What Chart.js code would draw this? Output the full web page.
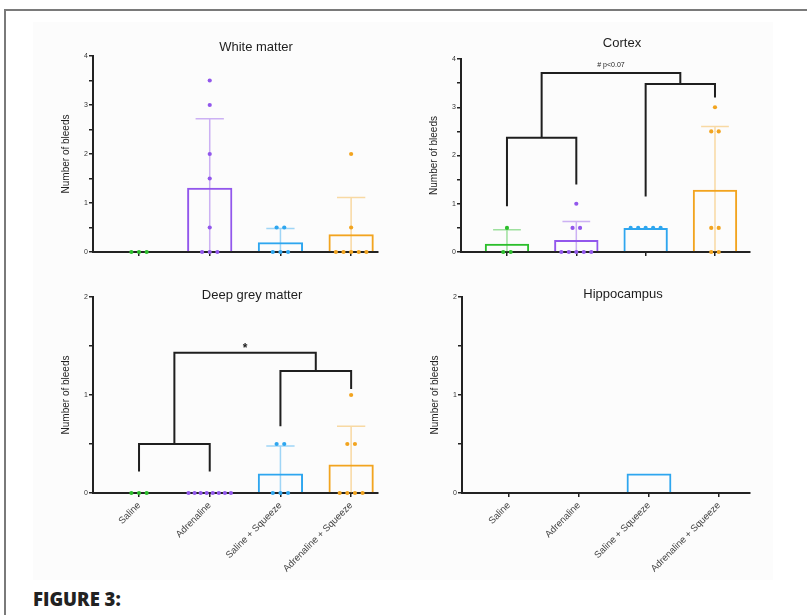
<!DOCTYPE html>
<html>
<head>
<meta charset="utf-8">
<script src="https://cdn.jsdelivr.net/npm/chart.js@4.4.1/dist/chart.umd.min.js"></script>
<style>
    html, body { margin: 0; padding: 0; background: #fff; }
    body { width: 807px; height: 615px; position: relative; overflow: hidden; font-family: 'Liberation Sans', Arial, sans-serif; }
    .frame-top { position: absolute; left: 4px; top: 9px; width: 803px; height: 2px; background: #7a7a7a; }
    .frame-left { position: absolute; left: 4px; top: 9px; width: 2px; height: 606px; background: #7a7a7a; }
    .sheet { position: absolute; left: 33px; top: 22px; width: 740px; height: 558px; background: #fcfcfc; }
    canvas { position: absolute; }
    .panel-title { position: absolute; transform: translate(-50%, -50%); font-size: 13px; color: #1e1e1e; white-space: nowrap; }
    .caption { position: absolute; left: 33px; top: 586px; font-family: 'Open Sans', sans-serif; font-weight: 800; font-size: 18.5px; color: #222; }
</style>
</head>
<body>
<div class="frame-top"></div>
<div class="frame-left"></div>
<div class="sheet"></div>

<canvas id="whiteMatter"></canvas>
<canvas id="cortex"></canvas>
<canvas id="deepGrey"></canvas>
<canvas id="hippocampus"></canvas>

<div class="panel-title" style="left:256px; top:46px;">White matter</div>
<div class="panel-title" style="left:622px; top:42px;">Cortex</div>
<div class="panel-title" style="left:252px; top:294px;">Deep grey matter</div>
<div class="panel-title" style="left:623px; top:293px;">Hippocampus</div>
<div class="caption">FIGURE 3:</div>

<script>
// Categorías (eje x)
const CATEGORIES = ['Saline', 'Adrenaline', 'Saline + Squeeze', 'Adrenaline + Squeeze'];

// Colores por grupo
const SERIES_COLORS = ['#2cbf2c', '#9257ec', '#2ea6ef', '#f2a41f'];
const ERROR_COLORS = ['rgba(44,191,44,0.45)', 'rgba(146,87,236,0.45)', 'rgba(46,166,239,0.45)', 'rgba(242,164,31,0.4)'];

// White matter
const WM_POINTS = [[0, 0, 0], [3.5, 3, 2, 1.5, 0.5, 0, 0, 0], [0.5, 0.5, 0, 0, 0], [2, 0.5, 0, 0, 0, 0, 0]];
const WM_MEANS = [0, 1.31, 0.2, 0.36];
const WM_ERR_TOP = [null, 2.72, 0.48, 1.11];

// Cortex
const CX_POINTS = [[0.5, 0, 0], [1, 0.5, 0.5, 0, 0, 0, 0, 0], [0.5, 0.5, 0.5, 0.5, 0.5], [3, 2.5, 2.5, 0.5, 0.5, 0, 0]];
const CX_MEANS = [0.17, 0.25, 0.5, 1.29];
const CX_ERR_TOP = [0.46, 0.63, null, 2.6];
// [desde, hasta, altura, extremo izq, extremo der]
const CX_BRACKETS = [[0, 1, 2.37, 0.95, 1.4], [2, 3, 3.48, 1.15, 3.2], [0.5, 2.5, 3.71, 2.37, 3.48]];
const CX_NOTE = '# p<0.07';
const CX_NOTE_AT = [1.5, 3.87];

// Deep grey matter
const DG_POINTS = [[0, 0, 0], [0, 0, 0, 0, 0, 0, 0, 0], [0.5, 0.5, 0, 0, 0], [1, 0.5, 0.5, 0, 0, 0, 0]];
const DG_MEANS = [0, 0, 0.2, 0.29];
const DG_ERR_TOP = [null, null, 0.48, 0.68];
const DG_BRACKETS = [[0, 1, 0.5, 0.22, 0.22], [2, 3, 1.245, 0.68, 1.06], [0.5, 2.5, 1.43, 0.5, 1.245]];
const DG_NOTE = '*';
const DG_NOTE_AT = [1.5, 1.47];

// Hippocampus
const HC_POINTS = [[], [], [], []];
const HC_MEANS = [0, 0, 0.2, 0];
const HC_ERR_TOP = [null, null, null, null];

Chart.defaults.font.family = "'Liberation Sans', Arial, sans-serif";

/**
 * Reparte horizontalmente los puntos con el mismo valor
 */
function spreadPoints(values, index) {
    const groups = {};
    values.forEach(v => { (groups[v] = groups[v] || []).push(v); });
    const out = [];
    Object.keys(groups).forEach(key => {
        const n = groups[key].length;
        const step = n > 1 ? Math.min(0.108, 0.6 / (n - 1)) : 0;
        for (let k = 0; k < n; k++) {
            out.push({ x: index + (k - (n - 1) / 2) * step, y: Number(key) });
        }
    });
    return out;
}

// Texto de significancia
const notePlugin = {
    id: 'note',
    afterDatasetsDraw(chart, args, opts) {
        if (!opts.text) return;
        const { ctx, scales } = chart;
        ctx.save();
        ctx.font = opts.font;
        ctx.fillStyle = '#222';
        ctx.textAlign = 'center';
        ctx.textBaseline = 'middle';
        ctx.fillText(opts.text, scales.x.getPixelForValue(opts.at[0]), scales.y.getPixelForValue(opts.at[1]));
        ctx.restore();
    }
};

function buildPanel(id, box, cfg) {
    const canvas = document.getElementById(id);
    const yWidth = 35;
    const pad = { left: 0, top: 8, right: 4, bottom: 2 };
    const left = box.left - yWidth;
    const top = box.top - pad.top;
    const width = box.right + pad.right - left;
    const height = box.bottom + box.xHeight + pad.bottom - top;
    canvas.width = width;
    canvas.height = height;
    canvas.style.left = left + 'px';
    canvas.style.top = top + 'px';

    const datasets = [];

    // Barras (media)
    datasets.push({
        type: 'bar',
        data: cfg.means.map((m, i) => ({ x: i, y: m })),
        backgroundColor: 'rgba(255,255,255,0)',
        borderColor: SERIES_COLORS,
        borderWidth: 2,
        grouped: false,
        barPercentage: 0.64,
        categoryPercentage: 1,
        order: 4
    });

    // Barras de error (DE)
    cfg.errTop.forEach((topVal, i) => {
        if (topVal === null) return;
        const low = Math.max(0, 2 * cfg.means[i] - topVal);
        datasets.push({
            type: 'line',
            data: [{ x: i, y: low }, { x: i, y: topVal }, { x: i - 0.2, y: topVal }, { x: i + 0.2, y: topVal }],
            borderColor: ERROR_COLORS[i],
            borderWidth: 1.5,
            pointRadius: 0,
            tension: 0,
            order: 3
        });
    });

    // Corchetes de comparación
    (cfg.brackets || []).forEach(b => {
        datasets.push({
            type: 'line',
            data: [{ x: b[0], y: b[3] }, { x: b[0], y: b[2] }, { x: b[1], y: b[2] }, { x: b[1], y: b[4] }],
            borderColor: '#1f1f1f',
            borderWidth: 2,
            borderJoinStyle: 'miter',
            pointRadius: 0,
            tension: 0,
            order: 2
        });
    });

    // Puntos individuales
    cfg.points.forEach((values, i) => {
        if (!values.length) return;
        datasets.push({
            type: 'scatter',
            data: spreadPoints(values, i),
            backgroundColor: SERIES_COLORS[i],
            borderWidth: 0,
            pointRadius: 2.1,
            clip: false,
            order: 1
        });
    });

    return new Chart(canvas, {
        type: 'bar',
        data: { datasets: datasets },
        plugins: [notePlugin],
        options: {
            responsive: false,
            animation: false,
            layout: { padding: pad },
            plugins: {
                legend: { display: false },
                tooltip: { enabled: false },
                note: { text: cfg.note || '', at: cfg.noteAt, font: cfg.noteFont }
            },
            scales: {
                x: {
                    type: 'linear',
                    min: box.xMin,
                    max: box.xMax,
                    offset: false,
                    afterBuildTicks: s => { s.ticks = CATEGORIES.map((c, i) => ({ value: i })); },
                    grid: { offset: false, drawOnChartArea: false, tickLength: 4, color: '#222', lineWidth: 1.5, z: -1 },
                    border: { color: '#222', width: 2, z: -1 },
                    ticks: {
                        display: box.showLabels,
                        minRotation: 45,
                        maxRotation: 45,
                        autoSkip: false,
                        padding: 3,
                        color: '#444',
                        font: { size: 9.5 },
                        callback: v => CATEGORIES[v]
                    },
                    afterFit: s => { s.height = box.xHeight; }
                },
                y: {
                    min: 0,
                    max: cfg.yMax,
                    grid: { drawOnChartArea: false, tickLength: 4, color: '#222', lineWidth: 1.5, z: -1 },
                    border: { color: '#222', width: 2, z: -1 },
                    ticks: {
                        stepSize: 0.5,
                        autoSkip: false,
                        padding: 1,
                        color: '#333',
                        font: { size: 7 },
                        callback: v => Number.isInteger(v) ? v : ''
                    },
                    title: {
                        display: true,
                        text: 'Number of bleeds',
                        color: '#1e1e1e',
                        font: { size: 10 },
                        padding: { top: 2, bottom: 0 }
                    },
                    afterFit: s => { s.width = yWidth; }
                }
            }
        }
    });
}

buildPanel('whiteMatter', { left: 93, top: 56, right: 378, bottom: 252, xHeight: 8, showLabels: false, xMin: -0.651, xMax: 3.38 }, {
    points: WM_POINTS, means: WM_MEANS, errTop: WM_ERR_TOP, yMax: 4
});

buildPanel('cortex', { left: 461, top: 59, right: 750, bottom: 252, xHeight: 8, showLabels: false, xMin: -0.663, xMax: 3.505 }, {
    points: CX_POINTS, means: CX_MEANS, errTop: CX_ERR_TOP, yMax: 4,
    brackets: CX_BRACKETS, note: CX_NOTE, noteAt: CX_NOTE_AT, noteFont: "7px 'Liberation Sans', Arial, sans-serif"
});

buildPanel('deepGrey', { left: 93, top: 297, right: 378, bottom: 493, xHeight: 90, showLabels: true, xMin: -0.651, xMax: 3.38 }, {
    points: DG_POINTS, means: DG_MEANS, errTop: DG_ERR_TOP, yMax: 2,
    brackets: DG_BRACKETS, note: DG_NOTE, noteAt: DG_NOTE_AT, noteFont: "bold 12px 'Liberation Sans', Arial, sans-serif"
});

buildPanel('hippocampus', { left: 462, top: 297, right: 750, bottom: 493, xHeight: 90, showLabels: true, xMin: -0.671, xMax: 3.443 }, {
    points: HC_POINTS, means: HC_MEANS, errTop: HC_ERR_TOP, yMax: 2
});
</script>
</body>
</html>
